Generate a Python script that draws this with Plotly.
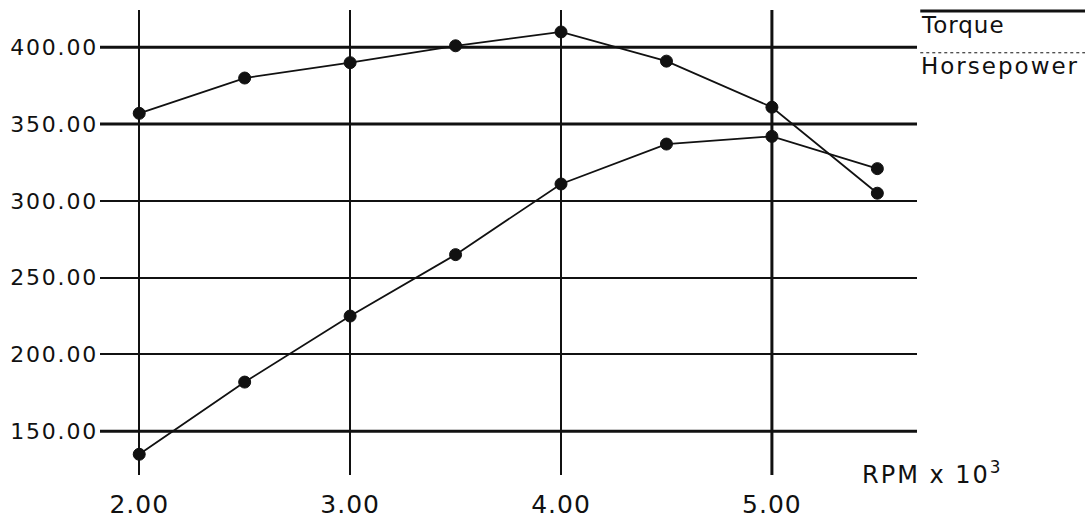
import plotly.graph_objects as go

rpm = [2.0, 2.5, 3.0, 3.5, 4.0, 4.5, 5.0, 5.5]
torque = [357, 380, 390, 401, 410, 391, 361, 305]
horsepower = [135, 182, 225, 265, 311, 337, 342, 321]
x_ticks = [2, 3, 4, 5]
y_ticks = [150, 200, 250, 300, 350, 400]
legend_names = ["Torque", "Horsepower"]
x_axis_title = "RPM x 10"
x_axis_exp = "3"

FONT = "DejaVu Sans"
INK = "#111111"


def spaced(text, px):
    return '<span style="letter-spacing:%spx">%s</span>' % (px, text)


fig = go.Figure()
for name, vals in zip(legend_names, [torque, horsepower]):
    fig.add_trace(go.Scatter(
        x=rpm, y=vals, name=name, mode="lines+markers",
        line=dict(color=INK, width=1.8),
        marker=dict(symbol="circle", size=12, color=INK,
                    line=dict(color=INK, width=1)),
        showlegend=False,
    ))

# thicker grid lines (as in the original drawing)
for v in [400, 350, 150]:
    fig.add_shape(type="line", xref="paper", yref="y", x0=0, x1=1, y0=v, y1=v,
                  line=dict(color=INK, width=3), layer="below")
fig.add_shape(type="line", xref="x", yref="paper", x0=5, x1=5, y0=0, y1=1,
              line=dict(color=INK, width=3), layer="below")

# legend-like labels at the top right
fig.add_shape(type="line", xref="paper", yref="paper", x0=1.004, x1=1.21,
              y0=0.998, y1=0.998, line=dict(color=INK, width=3))
fig.add_shape(type="line", xref="paper", yref="paper", x0=1.004, x1=1.21,
              y0=0.908, y1=0.908, line=dict(color=INK, width=1, dash="dot"))
fig.add_annotation(text=spaced(legend_names[0], 1), xref="paper", yref="paper",
                   x=1.003, y=0.968, xanchor="left", yanchor="middle",
                   showarrow=False, font=dict(family=FONT, size=23, color=INK))
fig.add_annotation(text=spaced(legend_names[1], 2), xref="paper", yref="paper",
                   x=1.003, y=0.880, xanchor="left", yanchor="middle",
                   showarrow=False, font=dict(family=FONT, size=23, color=INK))
fig.add_annotation(text=spaced(x_axis_title, 2) + "<sup>" + x_axis_exp + "</sup>",
                   xref="paper", yref="paper",
                   x=0.930, y=0.005, xanchor="left", yanchor="middle",
                   showarrow=False, font=dict(family=FONT, size=24, color=INK))

fig.update_xaxes(range=[1.814, 5.688], tickvals=x_ticks,
                 ticktext=[spaced("%.2f" % v, 1) for v in x_ticks],
                 showgrid=True, gridcolor=INK, gridwidth=2, zeroline=False,
                 showline=False, ticks="", ticklabelstandoff=12,
                 automargin=False,
                 tickfont=dict(family=FONT, size=25, color=INK))
fig.update_yaxes(range=[121.5, 424.3], tickvals=y_ticks,
                 ticktext=[spaced("%.2f" % v, 1.8) for v in y_ticks],
                 showgrid=True, gridcolor=INK, gridwidth=2, zeroline=False,
                 showline=False, ticks="", ticklabelstandoff=1,
                 automargin=False,
                 tickfont=dict(family=FONT, size=22, color=INK))

fig.update_layout(
    width=1085, height=519,
    margin=dict(l=100, r=168, t=10, b=44, autoexpand=False),
    paper_bgcolor="white", plot_bgcolor="white",
)
fig.write_html("out.html")
